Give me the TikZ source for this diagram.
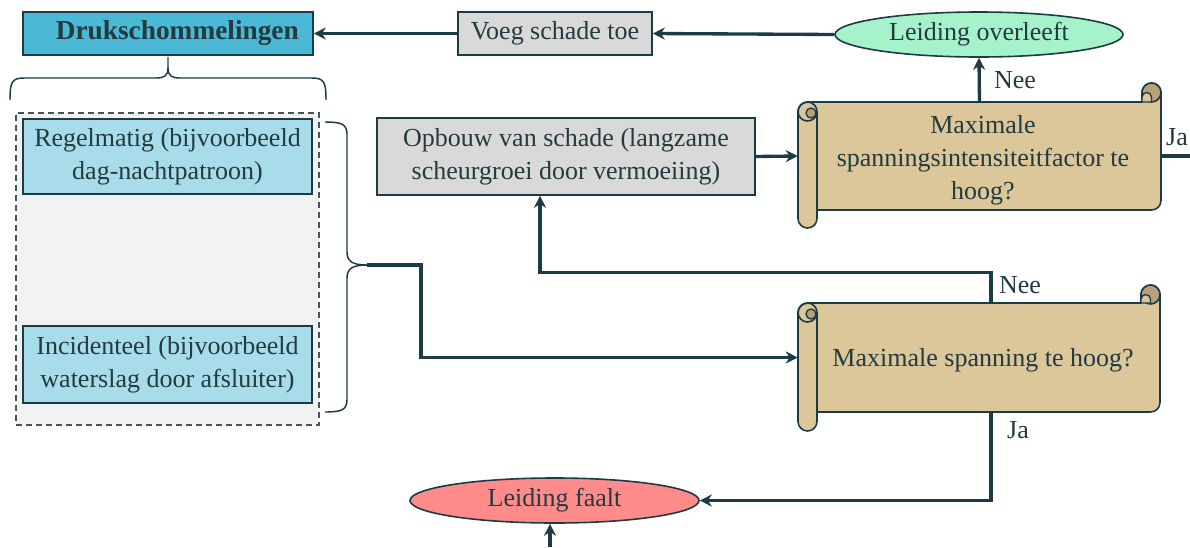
\documentclass[tikz,border=0pt]{standalone}
\usepackage{fontspec}
\setmainfont{Liberation Serif}
\usetikzlibrary{shapes.geometric,arrows.meta,calc}
\definecolor{dk}{RGB}{28,59,69}
\definecolor{txt}{RGB}{35,58,63}
\definecolor{cyanbox}{RGB}{75,185,213}
\definecolor{lightblue}{RGB}{168,220,234}
\definecolor{greybox}{RGB}{217,217,217}
\definecolor{grpbg}{RGB}{242,242,242}
\definecolor{grpline}{RGB}{70,85,92}
\definecolor{mint}{RGB}{166,243,203}
\definecolor{redfill}{RGB}{255,139,139}
\definecolor{tan}{RGB}{220,199,155}
\definecolor{rolldark}{RGB}{184,160,122}
\newcommand{\drawscroll}[6]{% L Ttop T B Bb R
  \filldraw[fill=tan, draw=dk, line width=1.2pt, line join=round]
    (#1,{#3+9.5}) arc[start angle=180,end angle=270,radius=9.5]
    -- ({#6-19},#3) -- ({#6-19},{#2+9.5}) arc[start angle=180,end angle=360,radius=9.5]
    -- (#6,{#4-9.5}) arc[start angle=0,end angle=90,radius=9.5]
    -- ({#1+19},#4) -- ({#1+19},{#5-9.5}) arc[start angle=0,end angle=180,radius=9.5]
    -- cycle;
  \draw[dk, line width=1.2pt] ({#1+9.5},{#3+9.5}) circle[radius=9.5];
  \filldraw[fill=rolldark, draw=dk, line width=1pt] ({#1+13},{#3+11}) circle[radius=5];
  \draw[dk, line width=1.2pt] ({#1+19},{#3+9.5}) -- ({#1+19},#4);
  \filldraw[fill=rolldark, draw=dk, line width=1.2pt] ({#6-9.5},{#2+9.5}) circle[radius=9.5];
  \filldraw[fill=tan, draw=dk, line width=1pt, line join=round]
    ({#6-19},{#2+14.25}) -- ({#6-19},#3) -- ({#6-9.5},#3) -- ({#6-9.5},{#2+14.25})
    arc[start angle=0,end angle=-180,radius=4.75] -- cycle;
}
\begin{document}
\begin{tikzpicture}[x=0.75pt,y=-0.75pt,
  font=\fontsize{19.5}{24.75}\selectfont,
  box/.style={draw=dk, line width=1.2pt, text=txt, align=center, inner sep=0pt},
  oval/.style={ellipse, draw=dk, line width=1.2pt, text=txt, inner sep=0pt},
  conn/.style={draw=dk, line width=2.5pt},
  arr/.style={conn, -{Stealth[length=9pt,width=9pt]}},
  bracestyle/.style={draw=dk, line width=1.1pt},
  lbl/.style={text=txt, inner sep=0pt},
  hidden/.style={inner sep=0pt},
  txtonly/.style={inner sep=0pt, text=txt, align=center}
]
\useasboundingbox (0,0) rectangle (1190,547);

% top row
\node[box, fill=cyanbox, minimum width=217.5pt, minimum height=32.25pt,
      font=\fontsize{20.5}{25}\selectfont\bfseries] (dr) at (168,33.5) {\hspace*{14pt}Drukschommelingen};
\node[box, fill=greybox, minimum width=145.5pt, minimum height=32.25pt] (vs) at (555,33.5) {Voeg schade toe};
\node[oval, fill=mint, minimum width=216pt, minimum height=33.75pt] (ov) at (979,34.5) {Leiding overleeft};

% group on the left
\node[draw=grpline, dashed, dash pattern=on 4.5pt off 3pt, fill=grpbg, line width=1.2pt,
      minimum width=227.25pt, minimum height=234pt, inner sep=0pt] (grp) at (167.5,269) {};
\node[box, fill=lightblue, minimum width=216.75pt, minimum height=56.25pt] (rg) at (167.5,156.5)
  {Regelmatig (bijvoorbeeld\\dag-nachtpatroon)};
\node[box, fill=lightblue, minimum width=216.75pt, minimum height=57.75pt] (ic) at (167.5,364.5)
  {Incidenteel (bijvoorbeeld\\waterslag door afsluiter)};

% braces
\draw[bracestyle] (10,100) .. controls (10,82) and (12,78) .. (24,78) -- (156,78)
  .. controls (164,78) and (168,76) .. (168,68) -- (168,57);
\draw[bracestyle] (326,100) .. controls (326,82) and (324,78) .. (312,78) -- (180,78)
  .. controls (172,78) and (168,76) .. (168,68);
\draw[bracestyle] (325,122) .. controls (341,122) and (347,124) .. (347,134) -- (347,252)
  .. controls (347,261) and (352,265) .. (367,265);
\draw[bracestyle] (325,412) .. controls (341,412) and (347,410) .. (347,400) -- (347,278)
  .. controls (347,269) and (352,265) .. (367,265);
\coordinate (bt) at (367,265);

% middle
\node[box, fill=greybox, minimum width=283.5pt, minimum height=57.75pt] (op) at (566,156.5)
  {Opbouw van schade (langzame\\scheurgroei door vermoeiing)};

% scrolls
\drawscroll{798}{83}{102}{210}{228}{1161}
\node[hidden, minimum width=272.25pt, minimum height=81pt] (s1) at (979.5,156) {};
\node[txtonly] (t1) at (983,160)
  {Maximale\\spanningsintensiteitfactor te\\hoog?};
\drawscroll{798}{285}{303}{412}{431}{1160}
\node[hidden, minimum width=271.5pt, minimum height=81.75pt] (s2) at (979,357.5) {};
\node[txtonly] (t2) at (983,360) {Maximale spanning te hoog?};

% bottom
\node[oval, fill=redfill, minimum width=216.75pt, minimum height=33.75pt] (lf) at (554.5,500.5) {Leiding faalt};

% connectors
\draw[arr] (ov.west) -- (vs.east);
\draw[arr] (vs.west) -- (dr.east);
\draw[arr] (s1.north) -- (ov.south);
\draw[arr] (op.east) -- (s1.west);
\coordinate (jaend) at (1190,156);
\draw[conn] (s1.east) -- (jaend);
\draw[arr] (bt) -- ++(54,0) |- (s2.west);
\draw[arr] ([xshift=9pt]s2.north) -- ++(0,-30) -| ([xshift=-19.5pt]op.south);
\draw[arr] ([xshift=9pt]s2.south) |- (lf.east);
\coordinate (bot) at (550,547);
\draw[arr] (bot) -- (bot |- lf.south);

% labels
\node[lbl] (l1) at (1015,80) {Nee};
\node[lbl] (l2) at (1177,137) {Ja};
\node[lbl] (l3) at (1020,285) {Nee};
\node[lbl] (l4) at (1018,430) {Ja};
\end{tikzpicture}
\end{document}
